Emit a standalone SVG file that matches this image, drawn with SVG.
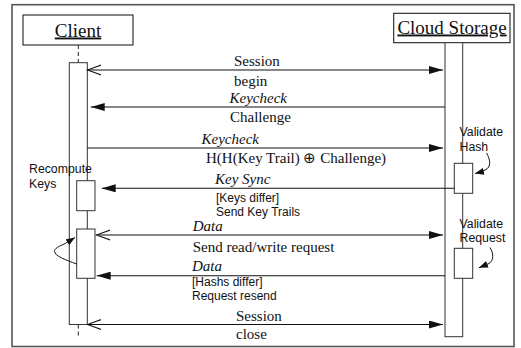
<svg xmlns="http://www.w3.org/2000/svg" width="521" height="348" viewBox="0 0 521 348">
<style>
.frame{fill:none;stroke:#555;stroke-width:1.6}
.box{fill:#fff;stroke:#222;stroke-width:1.1}
.bar{fill:#fff;stroke:#333;stroke-width:1}
.life{stroke:#222;stroke-width:1;stroke-dasharray:4 3}
.msg{stroke:#111;stroke-width:1.1;fill:none}
.curve{stroke:#111;stroke-width:1;fill:none}
.ser{font-family:"Liberation Serif","Times New Roman",serif;font-size:15px;fill:#111}
.it{font-style:italic}
.sans{font-family:"Liberation Sans",Arial,sans-serif;font-size:12.3px;fill:#111}
.cond{font-size:12px}
.title{font-family:"Liberation Serif","Times New Roman",serif;font-size:19px;fill:#111;text-decoration:underline;text-anchor:middle}
</style>
<defs>
<marker id="fill" viewBox="0 0 14 8" refX="14" refY="4" markerWidth="14" markerHeight="8" markerUnits="userSpaceOnUse" orient="auto"><path d="M0,0 L14,4 L0,8 Z" fill="#111"/></marker>
<marker id="open" viewBox="0 0 15 12" refX="14" refY="6" markerWidth="15" markerHeight="12" markerUnits="userSpaceOnUse" orient="auto-start-reverse"><path d="M0,1 L14,6 L0,11" fill="none" stroke="#111" stroke-width="1.1"/></marker>
<marker id="small" viewBox="0 0 9 7" refX="9" refY="3.5" markerWidth="9" markerHeight="7" markerUnits="userSpaceOnUse" orient="auto"><path d="M0,0 L9,3.5 L0,7 Z" fill="#111"/></marker>
</defs>
<rect class="frame" x="12" y="4.7" width="502" height="341.8"/>

<g id="client">
<rect class="box" x="23" y="15" width="110" height="30"/>
<text class="title" x="78" y="36.5">Client</text>
<line class="life" x1="78.3" y1="45" x2="78.3" y2="62.7"/>
<line class="life" x1="78.3" y1="324.5" x2="78.3" y2="337"/>
<rect class="bar" x="69.3" y="62.7" width="18" height="261.8"/>
</g>

<g id="cloud">
<rect class="box" x="393.7" y="13.3" width="116.3" height="29.4"/>
<text class="title" x="452" y="33.5">Cloud Storage</text>
<rect class="bar" x="445" y="42.7" width="17.7" height="294"/>
</g>

<g id="recompute">
<rect class="bar" x="76.7" y="180.7" width="18.3" height="30"/>
<text class="sans" x="29" y="173">Recompute</text>
<text class="sans" x="29" y="188.3">Keys</text>
</g>

<g id="client-request">
<rect class="bar" x="76.7" y="229" width="18.3" height="49.3"/>
</g>

<g id="validate-hash">
<rect class="bar" x="454.3" y="163.3" width="18.4" height="30"/>
<text class="sans" x="459.5" y="135.5">Validate</text>
<text class="sans" x="459.5" y="150.7">Hash</text>
</g>

<g id="validate-request">
<rect class="bar" x="454.3" y="248.3" width="18.4" height="30"/>
<text class="sans" x="459.5" y="227.5">Validate</text>
<text class="sans" x="459.5" y="242.3">Request</text>
</g>

<g id="connectors">
<line class="msg" x1="87.3" y1="70" x2="443" y2="70" marker-start="url(#open)" marker-end="url(#fill)"/>
<line class="msg" x1="445" y1="107" x2="90.7" y2="107" marker-end="url(#fill)"/>
<line class="msg" x1="87.3" y1="148" x2="443" y2="148" marker-end="url(#fill)"/>
<line class="msg" x1="454.3" y1="188.3" x2="101.7" y2="188.3" marker-end="url(#fill)"/>
<line class="msg" x1="96.3" y1="235" x2="443" y2="235" marker-start="url(#open)" marker-end="url(#fill)"/>
<line class="msg" x1="445" y1="275.7" x2="96.7" y2="275.7" marker-end="url(#fill)"/>
<line class="msg" x1="87.3" y1="324.5" x2="443" y2="324.5" marker-start="url(#open)" marker-end="url(#fill)"/>
<path class="curve" d="M76.7,264 C60,258 45,252 62,245 C67,243 71,240 75,237.5" marker-end="url(#small)"/>
<path class="curve" d="M486.5,153 C490,159 492,167 485,170 C482,171.5 479,172.5 475,173.5" marker-end="url(#small)"/>
<path class="curve" d="M490,247.5 C493,252 495,261 488,264 C485,265.5 482,266.5 479,267.7" marker-end="url(#small)"/>
</g>

<g id="labels">
<text class="ser" x="234" y="66">Session</text>
<text class="ser" x="234" y="86">begin</text>
<text class="ser it" x="229.5" y="103">Keycheck</text>
<text class="ser" x="230" y="122">Challenge</text>
<text class="ser it" x="201.5" y="143.5">Keycheck</text>
<text class="ser" x="206" y="162.5">H(H(Key Trail) ⊕ Challenge)</text>
<text class="ser it" x="215" y="184">Key Sync</text>
<text class="sans cond" x="216" y="202">[Keys differ]</text>
<text class="sans cond" x="216" y="215.6">Send Key Trails</text>
<text class="ser it" x="192.7" y="231">Data</text>
<text class="ser" x="192.7" y="251.5">Send read/write request</text>
<text class="ser it" x="192" y="270.5">Data</text>
<text class="sans cond" x="192" y="286">[Hashs differ]</text>
<text class="sans cond" x="192" y="299.6">Request resend</text>
<text class="ser" x="236" y="320.5">Session</text>
<text class="ser" x="236" y="339">close</text>
</g>
</svg>
